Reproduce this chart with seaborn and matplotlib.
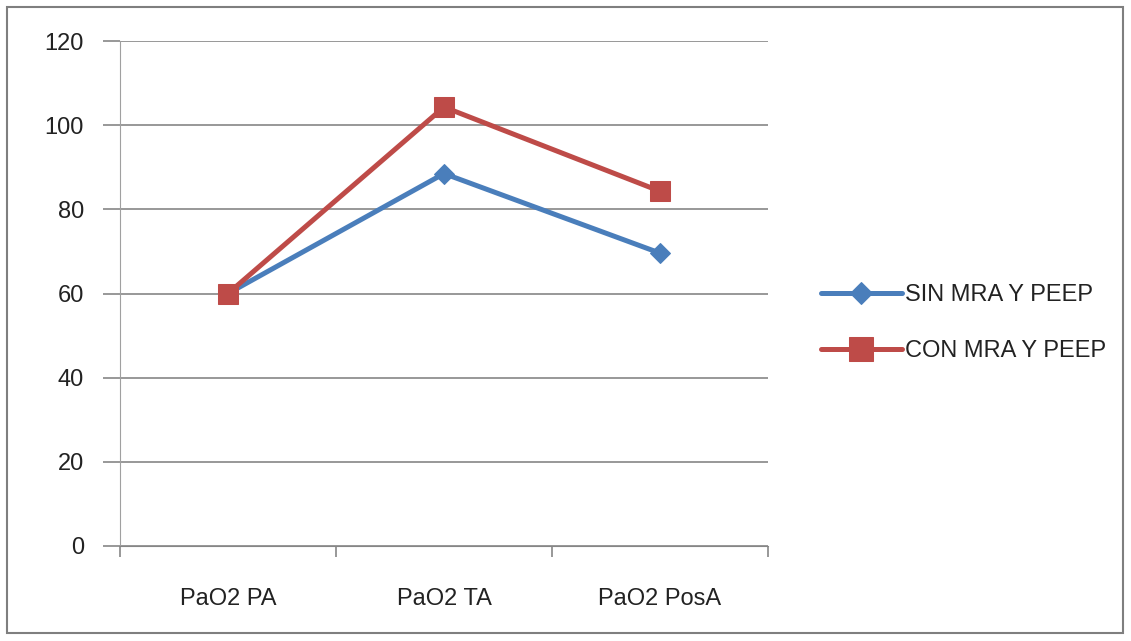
import matplotlib
matplotlib.use("Agg")
import matplotlib.pyplot as plt
import pandas as pd
import seaborn as sns
from matplotlib.patches import Rectangle

categories = ["PaO2 PA", "PaO2 TA", "PaO2 PosA"]
sin_mra = [60, 88.5, 69.6]
con_mra = [60, 104.3, 84.3]
series_names = ["SIN MRA Y PEEP", "CON MRA Y PEEP"]
y_ticks = [0, 20, 40, 60, 80, 100, 120]

colors = {"SIN MRA Y PEEP": "#4A7EBB", "CON MRA Y PEEP": "#BE4B48"}
markers = {"SIN MRA Y PEEP": "D", "CON MRA Y PEEP": "s"}
msizes = {"SIN MRA Y PEEP": 10, "CON MRA Y PEEP": 15}

df = pd.DataFrame({
    "cat": categories * 2,
    "x": list(range(len(categories))) * 2,
    "value": sin_mra + con_mra,
    "serie": [series_names[0]] * 3 + [series_names[1]] * 3,
})

sns.set_style("white")
plt.rcParams["font.family"] = ["Liberation Sans Narrow", "Liberation Sans", "DejaVu Sans"]

fig = plt.figure(figsize=(11.31, 6.41), dpi=100)
ax = fig.add_axes([120 / 1131, 95 / 641, 648 / 1131, 505 / 641])

fig.patches.append(Rectangle((7 / 1131, 8 / 641), 1116 / 1131, 626 / 641,
                             transform=fig.transFigure, fill=False,
                             edgecolor="#7f7f7f", linewidth=1.5))

for name in series_names:
    sub = df[df["serie"] == name]
    sns.lineplot(data=sub, x="x", y="value", ax=ax, color=colors[name],
                 linewidth=3.6, marker=markers[name], markersize=msizes[name],
                 markeredgecolor=colors[name], label=name)

ax.set_xlim(-0.5, 2.5)
ax.set_ylim(0, 120)
ax.set_yticks(y_ticks)
ax.set_xticks(range(len(categories)))
ax.set_xticklabels(categories)
ax.set_xticks([-0.5, 0.5, 1.5, 2.5], minor=True)
ax.tick_params(axis="x", which="major", bottom=True, length=0, pad=30,
               labelsize=17, labelcolor="#222222")
ax.tick_params(axis="x", which="minor", bottom=True, length=8,
               color="#868686", width=1.2)
ax.tick_params(axis="y", left=True, length=12, color="#868686", width=1.2,
               pad=14, labelsize=17, labelcolor="#222222")
ax.set_xlabel("")
ax.set_ylabel("")

ax.grid(axis="y", color="#868686", linewidth=1.2)
ax.set_axisbelow(True)
for side in ["top", "right"]:
    ax.spines[side].set_visible(False)
ax.spines["left"].set_color("#a0a0a0")
ax.spines["bottom"].set_color("#868686")

leg = ax.legend(loc="center left", bbox_to_anchor=(800 / 1131, 318 / 641),
                bbox_transform=fig.transFigure, frameon=False, fontsize=17,
                handlelength=3.4, handletextpad=0.15, labelspacing=1.45,
                markerscale=1.15)
for t in leg.get_texts():
    t.set_color("#222222")

fig.savefig("out.png", dpi=100)
